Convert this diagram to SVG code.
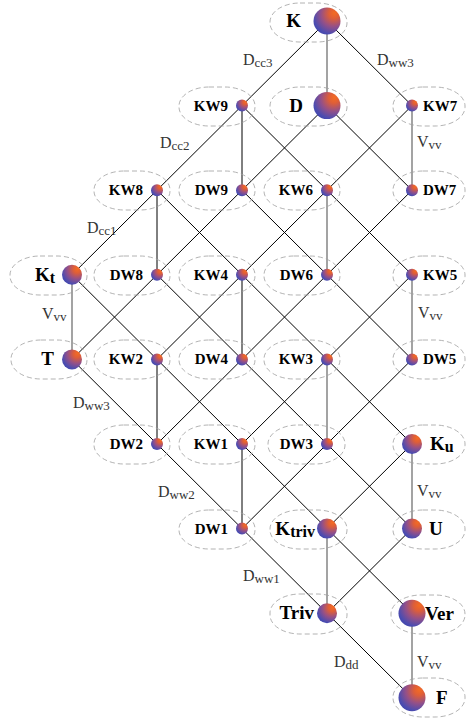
<svg xmlns="http://www.w3.org/2000/svg" width="466" height="722" viewBox="0 0 466 722">
<defs>
<radialGradient id="ball" cx="0.7" cy="0.28" r="0.9" fx="0.78" fy="0.2">
<stop offset="0" stop-color="#f46c22"/>
<stop offset="0.22" stop-color="#de5e38"/>
<stop offset="0.52" stop-color="#945088"/>
<stop offset="0.8" stop-color="#4c4cb0"/>
<stop offset="1" stop-color="#3a40a8"/>
</radialGradient>
<style>
.frame{fill:none;stroke:#a0a0a0;stroke-width:0.8;stroke-dasharray:5 3}
.e{stroke:#000;stroke-width:1;fill:none}
.v{stroke:#8c8c8c;stroke-width:1.6;fill:none}
.ball{fill:url(#ball)}
.lbl{font-family:"Liberation Serif","Times New Roman",serif;font-weight:bold;font-size:15px;fill:#000}
.big{font-size:19px}
.bsub{font-size:16px}
.el{font-family:"Liberation Serif","Times New Roman",serif;font-size:16px;fill:#333}
.sub{font-size:13px}
</style>
</defs>
<rect width="466" height="722" fill="#fff"/>

<g id="connectors">
<line class="e" x1="327" y1="21" x2="72" y2="274.8"/>
<line class="e" x1="412" y1="105.6" x2="157" y2="359.4"/>
<line class="e" x1="327" y1="105.6" x2="72" y2="359.4"/>
<line class="e" x1="412" y1="190.2" x2="157" y2="444"/>
<line class="e" x1="412" y1="274.8" x2="242" y2="444"/>
<line class="e" x1="412" y1="359.4" x2="242" y2="528.6"/>
<line class="e" x1="412" y1="444" x2="327" y2="528.6"/>
<line class="e" x1="412" y1="528.6" x2="327" y2="613.2"/>
<line class="e" x1="327" y1="21" x2="412" y2="105.6"/>
<line class="e" x1="242" y1="105.6" x2="412" y2="274.8"/>
<line class="e" x1="327" y1="105.6" x2="412" y2="190.2"/>
<line class="e" x1="157" y1="190.2" x2="412" y2="444"/>
<line class="e" x1="242" y1="190.2" x2="412" y2="359.4"/>
<line class="e" x1="72" y1="274.8" x2="412" y2="613.2"/>
<line class="e" x1="157" y1="274.8" x2="412" y2="528.6"/>
<line class="e" x1="72" y1="359.4" x2="412" y2="697.8"/>
<line class="e" x1="242" y1="105.6" x2="242" y2="190.2"/>
<line class="e" x1="157" y1="190.2" x2="157" y2="274.8"/>
<line class="e" x1="242" y1="274.8" x2="242" y2="359.4"/>
<line class="e" x1="157" y1="359.4" x2="157" y2="444"/>
<line class="e" x1="242" y1="444" x2="242" y2="528.6"/>
<line class="v" x1="327" y1="21" x2="327" y2="105.6"/>
<line class="v" x1="412" y1="105.6" x2="412" y2="190.2"/>
<line class="v" x1="327" y1="190.2" x2="327" y2="274.8"/>
<line class="v" x1="72" y1="274.8" x2="72" y2="359.4"/>
<line class="v" x1="412" y1="274.8" x2="412" y2="359.4"/>
<line class="v" x1="327" y1="359.4" x2="327" y2="444"/>
<line class="v" x1="412" y1="444" x2="412" y2="528.6"/>
<line class="v" x1="327" y1="528.6" x2="327" y2="613.2"/>
<line class="v" x1="412" y1="613.2" x2="412" y2="697.8"/>
<text class="el" x="243" y="65">D<tspan class="sub" dy="2">cc3</tspan></text>
<text class="el" x="377" y="65">D<tspan class="sub" dy="2">ww3</tspan></text>
<text class="el" x="160" y="148">D<tspan class="sub" dy="2">cc2</tspan></text>
<text class="el" x="87" y="233">D<tspan class="sub" dy="2">cc1</tspan></text>
<text class="el" x="417" y="147">V<tspan class="sub" dy="2">vv</tspan></text>
<text class="el" x="42" y="319">V<tspan class="sub" dy="2">vv</tspan></text>
<text class="el" x="418" y="318">V<tspan class="sub" dy="2">vv</tspan></text>
<text class="el" x="73" y="408">D<tspan class="sub" dy="2">ww3</tspan></text>
<text class="el" x="158" y="497">D<tspan class="sub" dy="2">ww2</tspan></text>
<text class="el" x="243" y="581">D<tspan class="sub" dy="2">ww1</tspan></text>
<text class="el" x="417" y="496">V<tspan class="sub" dy="2">vv</tspan></text>
<text class="el" x="334" y="667">D<tspan class="sub" dy="2">dd</tspan></text>
<text class="el" x="417" y="667">V<tspan class="sub" dy="2">vv</tspan></text>
</g>

<g id="K"><rect class="frame" x="270" y="3" width="77" height="39" rx="30" ry="19"/><circle class="ball" cx="327" cy="21" r="13.5"/><text class="lbl big" x="301" y="27" text-anchor="end">K</text></g>

<g id="KW9"><rect class="frame" x="179" y="87" width="76" height="39" rx="30" ry="19"/><circle class="ball" cx="242" cy="105.6" r="6"/><text class="lbl" x="228" y="110.6" text-anchor="end">KW9</text></g>
<g id="D"><rect class="frame" x="270" y="87" width="77" height="39" rx="30" ry="19"/><circle class="ball" cx="327" cy="105.6" r="13.5"/><text class="lbl big" x="303" y="111.6" text-anchor="end">D</text></g>
<g id="KW7"><rect class="frame" x="393" y="87" width="72" height="39" rx="30" ry="19"/><circle class="ball" cx="412" cy="105.6" r="6"/><text class="lbl" x="423" y="110.6">KW7</text></g>

<g id="KW8"><rect class="frame" x="94" y="171" width="76" height="39" rx="30" ry="19"/><circle class="ball" cx="157" cy="190.2" r="6"/><text class="lbl" x="143" y="195.2" text-anchor="end">KW8</text></g>
<g id="DW9"><rect class="frame" x="179" y="171" width="76" height="39" rx="30" ry="19"/><circle class="ball" cx="242" cy="190.2" r="6"/><text class="lbl" x="228" y="195.2" text-anchor="end">DW9</text></g>
<g id="KW6"><rect class="frame" x="264" y="171" width="76" height="39" rx="30" ry="19"/><circle class="ball" cx="327" cy="190.2" r="6"/><text class="lbl" x="313" y="195.2" text-anchor="end">KW6</text></g>
<g id="DW7"><rect class="frame" x="393" y="171" width="72" height="39" rx="30" ry="19"/><circle class="ball" cx="412" cy="190.2" r="6"/><text class="lbl" x="423" y="195.2">DW7</text></g>

<g id="Kt"><rect class="frame" x="10" y="256" width="77" height="39" rx="30" ry="19"/><circle class="ball" cx="72" cy="274.8" r="10"/><text class="lbl big" x="55" y="281" text-anchor="end">K<tspan class="bsub" dy="2">t</tspan></text></g>
<g id="DW8"><rect class="frame" x="94" y="256" width="76" height="39" rx="30" ry="19"/><circle class="ball" cx="157" cy="274.8" r="6"/><text class="lbl" x="143" y="279.8" text-anchor="end">DW8</text></g>
<g id="KW4"><rect class="frame" x="179" y="256" width="76" height="39" rx="30" ry="19"/><circle class="ball" cx="242" cy="274.8" r="6"/><text class="lbl" x="228" y="279.8" text-anchor="end">KW4</text></g>
<g id="DW6"><rect class="frame" x="264" y="256" width="76" height="39" rx="30" ry="19"/><circle class="ball" cx="327" cy="274.8" r="6"/><text class="lbl" x="313" y="279.8" text-anchor="end">DW6</text></g>
<g id="KW5"><rect class="frame" x="393" y="256" width="72" height="39" rx="30" ry="19"/><circle class="ball" cx="412" cy="274.8" r="6"/><text class="lbl" x="423" y="279.8">KW5</text></g>

<g id="T"><rect class="frame" x="11" y="340" width="76" height="39" rx="30" ry="19"/><circle class="ball" cx="72" cy="359.4" r="10"/><text class="lbl big" x="54" y="365.4" text-anchor="end">T</text></g>
<g id="KW2"><rect class="frame" x="94" y="340" width="76" height="39" rx="30" ry="19"/><circle class="ball" cx="157" cy="359.4" r="6"/><text class="lbl" x="143" y="364.4" text-anchor="end">KW2</text></g>
<g id="DW4"><rect class="frame" x="179" y="340" width="76" height="39" rx="30" ry="19"/><circle class="ball" cx="242" cy="359.4" r="6"/><text class="lbl" x="228" y="364.4" text-anchor="end">DW4</text></g>
<g id="KW3"><rect class="frame" x="264" y="340" width="76" height="39" rx="30" ry="19"/><circle class="ball" cx="327" cy="359.4" r="6"/><text class="lbl" x="313" y="364.4" text-anchor="end">KW3</text></g>
<g id="DW5"><rect class="frame" x="393" y="340" width="72" height="39" rx="30" ry="19"/><circle class="ball" cx="412" cy="359.4" r="6"/><text class="lbl" x="423" y="364.4">DW5</text></g>

<g id="DW2"><rect class="frame" x="94" y="425" width="76" height="39" rx="30" ry="19"/><circle class="ball" cx="157" cy="444" r="6"/><text class="lbl" x="143" y="449" text-anchor="end">DW2</text></g>
<g id="KW1"><rect class="frame" x="179" y="425" width="76" height="39" rx="30" ry="19"/><circle class="ball" cx="242" cy="444" r="6"/><text class="lbl" x="228" y="449" text-anchor="end">KW1</text></g>
<g id="DW3"><rect class="frame" x="268" y="425" width="77" height="39" rx="30" ry="19"/><circle class="ball" cx="327" cy="444" r="6"/><text class="lbl" x="313" y="449" text-anchor="end">DW3</text></g>
<g id="Ku"><rect class="frame" x="393" y="425" width="72" height="39" rx="30" ry="19"/><circle class="ball" cx="412" cy="444" r="10"/><text class="lbl big" x="430" y="450">K<tspan class="bsub" dy="2">u</tspan></text></g>

<g id="DW1"><rect class="frame" x="179" y="510" width="76" height="39" rx="30" ry="19"/><circle class="ball" cx="242" cy="528.6" r="6"/><text class="lbl" x="228" y="533.6" text-anchor="end">DW1</text></g>
<g id="Ktriv"><rect class="frame" x="270" y="510" width="77" height="39" rx="30" ry="19"/><circle class="ball" cx="327" cy="528.6" r="10"/><text class="lbl big" x="315" y="534.6" text-anchor="end">K<tspan class="bsub" dy="2">triv</tspan></text></g>
<g id="U"><rect class="frame" x="393" y="510" width="72" height="39" rx="30" ry="19"/><circle class="ball" cx="412" cy="528.6" r="10"/><text class="lbl big" x="429" y="534.6">U</text></g>

<g id="Triv"><rect class="frame" x="270" y="594" width="77" height="40" rx="30" ry="19"/><circle class="ball" cx="327" cy="613.2" r="10"/><text class="lbl big" x="314" y="619.2" text-anchor="end">Triv</text></g>
<g id="Ver"><rect class="frame" x="391" y="595" width="74" height="39" rx="30" ry="19"/><circle class="ball" cx="412" cy="613.2" r="13.5"/><text class="lbl big" x="425" y="619.8">Ver</text></g>

<g id="F"><rect class="frame" x="393" y="678" width="72" height="39" rx="30" ry="19"/><circle class="ball" cx="412" cy="697.8" r="13.5"/><text class="lbl big" x="436" y="703.8">F</text></g>
</svg>
